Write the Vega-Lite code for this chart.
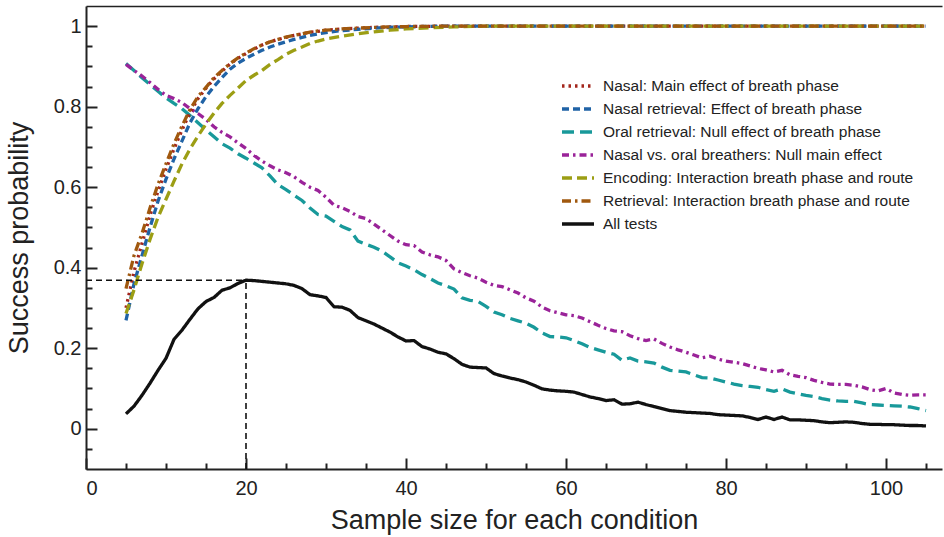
{
  "$schema": "https://vega.github.io/schema/vega-lite/v6.json",
  "autosize": {"type": "none"},
  "padding": {"left": 86, "top": 6, "right": 2, "bottom": 68},
  "width": 856,
  "height": 463,
  "config": {
    "view": {"stroke": null},
    "font": "Liberation Sans",
    "axis": {"grid": false, "domainColor": "#222", "tickColor": "#222", "labelColor": "#222", "titleColor": "#222", "labelFont": "Liberation Sans", "titleFont": "Liberation Sans", "labelFontSize": 20, "titleFontSize": 27, "titleFontWeight": "normal", "tickWidth": 2, "domainWidth": 2, "labelOverlap": false}
  },
  "datasets": {
    "curves": [
      {"s":"All tests","x":5,"y":0.037},{"s":"All tests","x":6,"y":0.056},{"s":"All tests","x":7,"y":0.083},{"s":"All tests","x":8,"y":0.113},{"s":"All tests","x":9,"y":0.145},{"s":"All tests","x":10,"y":0.175},{"s":"All tests","x":11,"y":0.222},{"s":"All tests","x":12,"y":0.245},{"s":"All tests","x":13,"y":0.272},{"s":"All tests","x":14,"y":0.298},{"s":"All tests","x":15,"y":0.316},{"s":"All tests","x":16,"y":0.326},{"s":"All tests","x":17,"y":0.344},{"s":"All tests","x":18,"y":0.350},{"s":"All tests","x":19,"y":0.361},{"s":"All tests","x":20,"y":0.369},{"s":"All tests","x":21,"y":0.368},{"s":"All tests","x":22,"y":0.366},{"s":"All tests","x":23,"y":0.364},{"s":"All tests","x":24,"y":0.362},{"s":"All tests","x":25,"y":0.36},{"s":"All tests","x":26,"y":0.356},{"s":"All tests","x":27,"y":0.348},{"s":"All tests","x":28,"y":0.333},{"s":"All tests","x":29,"y":0.330},{"s":"All tests","x":30,"y":0.326},{"s":"All tests","x":31,"y":0.303},{"s":"All tests","x":32,"y":0.302},{"s":"All tests","x":33,"y":0.294},{"s":"All tests","x":34,"y":0.276},{"s":"All tests","x":35,"y":0.268},{"s":"All tests","x":36,"y":0.260},{"s":"All tests","x":37,"y":0.250},{"s":"All tests","x":38,"y":0.240},{"s":"All tests","x":39,"y":0.228},{"s":"All tests","x":40,"y":0.218},{"s":"All tests","x":41,"y":0.219},{"s":"All tests","x":42,"y":0.204},{"s":"All tests","x":43,"y":0.198},{"s":"All tests","x":44,"y":0.19},{"s":"All tests","x":45,"y":0.186},{"s":"All tests","x":46,"y":0.174},{"s":"All tests","x":47,"y":0.16},{"s":"All tests","x":48,"y":0.153},{"s":"All tests","x":49,"y":0.152},{"s":"All tests","x":50,"y":0.151},{"s":"All tests","x":51,"y":0.137},{"s":"All tests","x":52,"y":0.131},{"s":"All tests","x":53,"y":0.126},{"s":"All tests","x":54,"y":0.122},{"s":"All tests","x":55,"y":0.116},{"s":"All tests","x":56,"y":0.108},{"s":"All tests","x":57,"y":0.099},{"s":"All tests","x":58,"y":0.096},{"s":"All tests","x":59,"y":0.094},{"s":"All tests","x":60,"y":0.093},{"s":"All tests","x":61,"y":0.091},{"s":"All tests","x":62,"y":0.085},{"s":"All tests","x":63,"y":0.079},{"s":"All tests","x":64,"y":0.075},{"s":"All tests","x":65,"y":0.070},{"s":"All tests","x":66,"y":0.072},{"s":"All tests","x":67,"y":0.061},{"s":"All tests","x":68,"y":0.062},{"s":"All tests","x":69,"y":0.066},{"s":"All tests","x":70,"y":0.060},{"s":"All tests","x":71,"y":0.055},{"s":"All tests","x":72,"y":0.05},{"s":"All tests","x":73,"y":0.045},{"s":"All tests","x":74,"y":0.043},{"s":"All tests","x":75,"y":0.041},{"s":"All tests","x":76,"y":0.040},{"s":"All tests","x":77,"y":0.039},{"s":"All tests","x":78,"y":0.038},{"s":"All tests","x":79,"y":0.035},{"s":"All tests","x":80,"y":0.034},{"s":"All tests","x":81,"y":0.033},{"s":"All tests","x":82,"y":0.032},{"s":"All tests","x":83,"y":0.028},{"s":"All tests","x":84,"y":0.023},{"s":"All tests","x":85,"y":0.029},{"s":"All tests","x":86,"y":0.023},{"s":"All tests","x":87,"y":0.029},{"s":"All tests","x":88,"y":0.022},{"s":"All tests","x":89,"y":0.022},{"s":"All tests","x":90,"y":0.021},{"s":"All tests","x":91,"y":0.020},{"s":"All tests","x":92,"y":0.017},{"s":"All tests","x":93,"y":0.015},{"s":"All tests","x":94,"y":0.016},{"s":"All tests","x":95,"y":0.017},{"s":"All tests","x":96,"y":0.016},{"s":"All tests","x":97,"y":0.013},{"s":"All tests","x":98,"y":0.011},{"s":"All tests","x":99,"y":0.011},{"s":"All tests","x":100,"y":0.010},{"s":"All tests","x":101,"y":0.010},{"s":"All tests","x":102,"y":0.009},{"s":"All tests","x":103,"y":0.008},{"s":"All tests","x":104,"y":0.008},{"s":"All tests","x":105,"y":0.007},

      {"s":"Oral retrieval: Null effect of breath phase","x":5,"y":0.907},{"s":"Oral retrieval: Null effect of breath phase","x":6,"y":0.89},{"s":"Oral retrieval: Null effect of breath phase","x":7,"y":0.872},{"s":"Oral retrieval: Null effect of breath phase","x":8,"y":0.855},{"s":"Oral retrieval: Null effect of breath phase","x":9,"y":0.838},{"s":"Oral retrieval: Null effect of breath phase","x":10,"y":0.822},{"s":"Oral retrieval: Null effect of breath phase","x":11,"y":0.808},{"s":"Oral retrieval: Null effect of breath phase","x":12,"y":0.795},{"s":"Oral retrieval: Null effect of breath phase","x":13,"y":0.778},{"s":"Oral retrieval: Null effect of breath phase","x":14,"y":0.76},{"s":"Oral retrieval: Null effect of breath phase","x":15,"y":0.742},{"s":"Oral retrieval: Null effect of breath phase","x":16,"y":0.725},{"s":"Oral retrieval: Null effect of breath phase","x":17,"y":0.708},{"s":"Oral retrieval: Null effect of breath phase","x":18,"y":0.697},{"s":"Oral retrieval: Null effect of breath phase","x":19,"y":0.683},{"s":"Oral retrieval: Null effect of breath phase","x":20,"y":0.672},{"s":"Oral retrieval: Null effect of breath phase","x":21,"y":0.66},{"s":"Oral retrieval: Null effect of breath phase","x":22,"y":0.648},{"s":"Oral retrieval: Null effect of breath phase","x":23,"y":0.628},{"s":"Oral retrieval: Null effect of breath phase","x":24,"y":0.606},{"s":"Oral retrieval: Null effect of breath phase","x":25,"y":0.594},{"s":"Oral retrieval: Null effect of breath phase","x":26,"y":0.58},{"s":"Oral retrieval: Null effect of breath phase","x":27,"y":0.567},{"s":"Oral retrieval: Null effect of breath phase","x":28,"y":0.548},{"s":"Oral retrieval: Null effect of breath phase","x":29,"y":0.532},{"s":"Oral retrieval: Null effect of breath phase","x":30,"y":0.528},{"s":"Oral retrieval: Null effect of breath phase","x":31,"y":0.515},{"s":"Oral retrieval: Null effect of breath phase","x":32,"y":0.502},{"s":"Oral retrieval: Null effect of breath phase","x":33,"y":0.494},{"s":"Oral retrieval: Null effect of breath phase","x":34,"y":0.466},{"s":"Oral retrieval: Null effect of breath phase","x":35,"y":0.458},{"s":"Oral retrieval: Null effect of breath phase","x":36,"y":0.451},{"s":"Oral retrieval: Null effect of breath phase","x":37,"y":0.441},{"s":"Oral retrieval: Null effect of breath phase","x":38,"y":0.427},{"s":"Oral retrieval: Null effect of breath phase","x":39,"y":0.412},{"s":"Oral retrieval: Null effect of breath phase","x":40,"y":0.404},{"s":"Oral retrieval: Null effect of breath phase","x":41,"y":0.395},{"s":"Oral retrieval: Null effect of breath phase","x":42,"y":0.383},{"s":"Oral retrieval: Null effect of breath phase","x":43,"y":0.373},{"s":"Oral retrieval: Null effect of breath phase","x":44,"y":0.362},{"s":"Oral retrieval: Null effect of breath phase","x":45,"y":0.355},{"s":"Oral retrieval: Null effect of breath phase","x":46,"y":0.347},{"s":"Oral retrieval: Null effect of breath phase","x":47,"y":0.325},{"s":"Oral retrieval: Null effect of breath phase","x":48,"y":0.319},{"s":"Oral retrieval: Null effect of breath phase","x":49,"y":0.316},{"s":"Oral retrieval: Null effect of breath phase","x":50,"y":0.304},{"s":"Oral retrieval: Null effect of breath phase","x":51,"y":0.29},{"s":"Oral retrieval: Null effect of breath phase","x":52,"y":0.283},{"s":"Oral retrieval: Null effect of breath phase","x":53,"y":0.274},{"s":"Oral retrieval: Null effect of breath phase","x":54,"y":0.268},{"s":"Oral retrieval: Null effect of breath phase","x":55,"y":0.262},{"s":"Oral retrieval: Null effect of breath phase","x":56,"y":0.252},{"s":"Oral retrieval: Null effect of breath phase","x":57,"y":0.238},{"s":"Oral retrieval: Null effect of breath phase","x":58,"y":0.229},{"s":"Oral retrieval: Null effect of breath phase","x":59,"y":0.228},{"s":"Oral retrieval: Null effect of breath phase","x":60,"y":0.226},{"s":"Oral retrieval: Null effect of breath phase","x":61,"y":0.219},{"s":"Oral retrieval: Null effect of breath phase","x":62,"y":0.211},{"s":"Oral retrieval: Null effect of breath phase","x":63,"y":0.202},{"s":"Oral retrieval: Null effect of breath phase","x":64,"y":0.196},{"s":"Oral retrieval: Null effect of breath phase","x":65,"y":0.19},{"s":"Oral retrieval: Null effect of breath phase","x":66,"y":0.185},{"s":"Oral retrieval: Null effect of breath phase","x":67,"y":0.17},{"s":"Oral retrieval: Null effect of breath phase","x":68,"y":0.176},{"s":"Oral retrieval: Null effect of breath phase","x":69,"y":0.168},{"s":"Oral retrieval: Null effect of breath phase","x":70,"y":0.166},{"s":"Oral retrieval: Null effect of breath phase","x":71,"y":0.163},{"s":"Oral retrieval: Null effect of breath phase","x":72,"y":0.153},{"s":"Oral retrieval: Null effect of breath phase","x":73,"y":0.145},{"s":"Oral retrieval: Null effect of breath phase","x":74,"y":0.143},{"s":"Oral retrieval: Null effect of breath phase","x":75,"y":0.141},{"s":"Oral retrieval: Null effect of breath phase","x":76,"y":0.134},{"s":"Oral retrieval: Null effect of breath phase","x":77,"y":0.127},{"s":"Oral retrieval: Null effect of breath phase","x":78,"y":0.126},{"s":"Oral retrieval: Null effect of breath phase","x":79,"y":0.121},{"s":"Oral retrieval: Null effect of breath phase","x":80,"y":0.116},{"s":"Oral retrieval: Null effect of breath phase","x":81,"y":0.111},{"s":"Oral retrieval: Null effect of breath phase","x":82,"y":0.107},{"s":"Oral retrieval: Null effect of breath phase","x":83,"y":0.105},{"s":"Oral retrieval: Null effect of breath phase","x":84,"y":0.103},{"s":"Oral retrieval: Null effect of breath phase","x":85,"y":0.097},{"s":"Oral retrieval: Null effect of breath phase","x":86,"y":0.093},{"s":"Oral retrieval: Null effect of breath phase","x":87,"y":0.099},{"s":"Oral retrieval: Null effect of breath phase","x":88,"y":0.091},{"s":"Oral retrieval: Null effect of breath phase","x":89,"y":0.087},{"s":"Oral retrieval: Null effect of breath phase","x":90,"y":0.083},{"s":"Oral retrieval: Null effect of breath phase","x":91,"y":0.08},{"s":"Oral retrieval: Null effect of breath phase","x":92,"y":0.075},{"s":"Oral retrieval: Null effect of breath phase","x":93,"y":0.071},{"s":"Oral retrieval: Null effect of breath phase","x":94,"y":0.069},{"s":"Oral retrieval: Null effect of breath phase","x":95,"y":0.068},{"s":"Oral retrieval: Null effect of breath phase","x":96,"y":0.068},{"s":"Oral retrieval: Null effect of breath phase","x":97,"y":0.064},{"s":"Oral retrieval: Null effect of breath phase","x":98,"y":0.06},{"s":"Oral retrieval: Null effect of breath phase","x":99,"y":0.059},{"s":"Oral retrieval: Null effect of breath phase","x":100,"y":0.058},{"s":"Oral retrieval: Null effect of breath phase","x":101,"y":0.057},{"s":"Oral retrieval: Null effect of breath phase","x":102,"y":0.056},{"s":"Oral retrieval: Null effect of breath phase","x":103,"y":0.054},{"s":"Oral retrieval: Null effect of breath phase","x":104,"y":0.05},{"s":"Oral retrieval: Null effect of breath phase","x":105,"y":0.045},

      {"s":"Nasal vs. oral breathers: Null main effect","x":5,"y":0.905},{"s":"Nasal vs. oral breathers: Null main effect","x":6,"y":0.89},{"s":"Nasal vs. oral breathers: Null main effect","x":7,"y":0.876},{"s":"Nasal vs. oral breathers: Null main effect","x":8,"y":0.86},{"s":"Nasal vs. oral breathers: Null main effect","x":9,"y":0.843},{"s":"Nasal vs. oral breathers: Null main effect","x":10,"y":0.828},{"s":"Nasal vs. oral breathers: Null main effect","x":11,"y":0.82},{"s":"Nasal vs. oral breathers: Null main effect","x":12,"y":0.81},{"s":"Nasal vs. oral breathers: Null main effect","x":13,"y":0.795},{"s":"Nasal vs. oral breathers: Null main effect","x":14,"y":0.783},{"s":"Nasal vs. oral breathers: Null main effect","x":15,"y":0.768},{"s":"Nasal vs. oral breathers: Null main effect","x":16,"y":0.75},{"s":"Nasal vs. oral breathers: Null main effect","x":17,"y":0.736},{"s":"Nasal vs. oral breathers: Null main effect","x":18,"y":0.725},{"s":"Nasal vs. oral breathers: Null main effect","x":19,"y":0.71},{"s":"Nasal vs. oral breathers: Null main effect","x":20,"y":0.696},{"s":"Nasal vs. oral breathers: Null main effect","x":21,"y":0.679},{"s":"Nasal vs. oral breathers: Null main effect","x":22,"y":0.665},{"s":"Nasal vs. oral breathers: Null main effect","x":23,"y":0.653},{"s":"Nasal vs. oral breathers: Null main effect","x":24,"y":0.643},{"s":"Nasal vs. oral breathers: Null main effect","x":25,"y":0.636},{"s":"Nasal vs. oral breathers: Null main effect","x":26,"y":0.626},{"s":"Nasal vs. oral breathers: Null main effect","x":27,"y":0.612},{"s":"Nasal vs. oral breathers: Null main effect","x":28,"y":0.6},{"s":"Nasal vs. oral breathers: Null main effect","x":29,"y":0.592},{"s":"Nasal vs. oral breathers: Null main effect","x":30,"y":0.575},{"s":"Nasal vs. oral breathers: Null main effect","x":31,"y":0.555},{"s":"Nasal vs. oral breathers: Null main effect","x":32,"y":0.549},{"s":"Nasal vs. oral breathers: Null main effect","x":33,"y":0.54},{"s":"Nasal vs. oral breathers: Null main effect","x":34,"y":0.527},{"s":"Nasal vs. oral breathers: Null main effect","x":35,"y":0.522},{"s":"Nasal vs. oral breathers: Null main effect","x":36,"y":0.508},{"s":"Nasal vs. oral breathers: Null main effect","x":37,"y":0.494},{"s":"Nasal vs. oral breathers: Null main effect","x":38,"y":0.48},{"s":"Nasal vs. oral breathers: Null main effect","x":39,"y":0.466},{"s":"Nasal vs. oral breathers: Null main effect","x":40,"y":0.457},{"s":"Nasal vs. oral breathers: Null main effect","x":41,"y":0.455},{"s":"Nasal vs. oral breathers: Null main effect","x":42,"y":0.439},{"s":"Nasal vs. oral breathers: Null main effect","x":43,"y":0.432},{"s":"Nasal vs. oral breathers: Null main effect","x":44,"y":0.427},{"s":"Nasal vs. oral breathers: Null main effect","x":45,"y":0.418},{"s":"Nasal vs. oral breathers: Null main effect","x":46,"y":0.397},{"s":"Nasal vs. oral breathers: Null main effect","x":47,"y":0.388},{"s":"Nasal vs. oral breathers: Null main effect","x":48,"y":0.38},{"s":"Nasal vs. oral breathers: Null main effect","x":49,"y":0.374},{"s":"Nasal vs. oral breathers: Null main effect","x":50,"y":0.364},{"s":"Nasal vs. oral breathers: Null main effect","x":51,"y":0.356},{"s":"Nasal vs. oral breathers: Null main effect","x":52,"y":0.353},{"s":"Nasal vs. oral breathers: Null main effect","x":53,"y":0.345},{"s":"Nasal vs. oral breathers: Null main effect","x":54,"y":0.337},{"s":"Nasal vs. oral breathers: Null main effect","x":55,"y":0.325},{"s":"Nasal vs. oral breathers: Null main effect","x":56,"y":0.317},{"s":"Nasal vs. oral breathers: Null main effect","x":57,"y":0.302},{"s":"Nasal vs. oral breathers: Null main effect","x":58,"y":0.293},{"s":"Nasal vs. oral breathers: Null main effect","x":59,"y":0.288},{"s":"Nasal vs. oral breathers: Null main effect","x":60,"y":0.283},{"s":"Nasal vs. oral breathers: Null main effect","x":61,"y":0.281},{"s":"Nasal vs. oral breathers: Null main effect","x":62,"y":0.275},{"s":"Nasal vs. oral breathers: Null main effect","x":63,"y":0.266},{"s":"Nasal vs. oral breathers: Null main effect","x":64,"y":0.257},{"s":"Nasal vs. oral breathers: Null main effect","x":65,"y":0.249},{"s":"Nasal vs. oral breathers: Null main effect","x":66,"y":0.243},{"s":"Nasal vs. oral breathers: Null main effect","x":67,"y":0.241},{"s":"Nasal vs. oral breathers: Null main effect","x":68,"y":0.231},{"s":"Nasal vs. oral breathers: Null main effect","x":69,"y":0.224},{"s":"Nasal vs. oral breathers: Null main effect","x":70,"y":0.219},{"s":"Nasal vs. oral breathers: Null main effect","x":71,"y":0.223},{"s":"Nasal vs. oral breathers: Null main effect","x":72,"y":0.212},{"s":"Nasal vs. oral breathers: Null main effect","x":73,"y":0.203},{"s":"Nasal vs. oral breathers: Null main effect","x":74,"y":0.196},{"s":"Nasal vs. oral breathers: Null main effect","x":75,"y":0.19},{"s":"Nasal vs. oral breathers: Null main effect","x":76,"y":0.183},{"s":"Nasal vs. oral breathers: Null main effect","x":77,"y":0.176},{"s":"Nasal vs. oral breathers: Null main effect","x":78,"y":0.18},{"s":"Nasal vs. oral breathers: Null main effect","x":79,"y":0.173},{"s":"Nasal vs. oral breathers: Null main effect","x":80,"y":0.168},{"s":"Nasal vs. oral breathers: Null main effect","x":81,"y":0.165},{"s":"Nasal vs. oral breathers: Null main effect","x":82,"y":0.162},{"s":"Nasal vs. oral breathers: Null main effect","x":83,"y":0.156},{"s":"Nasal vs. oral breathers: Null main effect","x":84,"y":0.15},{"s":"Nasal vs. oral breathers: Null main effect","x":85,"y":0.146},{"s":"Nasal vs. oral breathers: Null main effect","x":86,"y":0.141},{"s":"Nasal vs. oral breathers: Null main effect","x":87,"y":0.145},{"s":"Nasal vs. oral breathers: Null main effect","x":88,"y":0.134},{"s":"Nasal vs. oral breathers: Null main effect","x":89,"y":0.13},{"s":"Nasal vs. oral breathers: Null main effect","x":90,"y":0.127},{"s":"Nasal vs. oral breathers: Null main effect","x":91,"y":0.12},{"s":"Nasal vs. oral breathers: Null main effect","x":92,"y":0.115},{"s":"Nasal vs. oral breathers: Null main effect","x":93,"y":0.111},{"s":"Nasal vs. oral breathers: Null main effect","x":94,"y":0.11},{"s":"Nasal vs. oral breathers: Null main effect","x":95,"y":0.11},{"s":"Nasal vs. oral breathers: Null main effect","x":96,"y":0.108},{"s":"Nasal vs. oral breathers: Null main effect","x":97,"y":0.104},{"s":"Nasal vs. oral breathers: Null main effect","x":98,"y":0.097},{"s":"Nasal vs. oral breathers: Null main effect","x":99,"y":0.094},{"s":"Nasal vs. oral breathers: Null main effect","x":100,"y":0.1},{"s":"Nasal vs. oral breathers: Null main effect","x":101,"y":0.089},{"s":"Nasal vs. oral breathers: Null main effect","x":102,"y":0.085},{"s":"Nasal vs. oral breathers: Null main effect","x":103,"y":0.083},{"s":"Nasal vs. oral breathers: Null main effect","x":104,"y":0.084},{"s":"Nasal vs. oral breathers: Null main effect","x":105,"y":0.084},

      {"s":"Nasal: Main effect of breath phase","x":5,"y":0.30},{"s":"Nasal: Main effect of breath phase","x":6,"y":0.39},{"s":"Nasal: Main effect of breath phase","x":7,"y":0.46},{"s":"Nasal: Main effect of breath phase","x":8,"y":0.53},{"s":"Nasal: Main effect of breath phase","x":9,"y":0.59},{"s":"Nasal: Main effect of breath phase","x":10,"y":0.645},{"s":"Nasal: Main effect of breath phase","x":11,"y":0.695},{"s":"Nasal: Main effect of breath phase","x":12,"y":0.742},{"s":"Nasal: Main effect of breath phase","x":13,"y":0.785},{"s":"Nasal: Main effect of breath phase","x":14,"y":0.82},{"s":"Nasal: Main effect of breath phase","x":15,"y":0.846},{"s":"Nasal: Main effect of breath phase","x":16,"y":0.869},{"s":"Nasal: Main effect of breath phase","x":17,"y":0.888},{"s":"Nasal: Main effect of breath phase","x":18,"y":0.906},{"s":"Nasal: Main effect of breath phase","x":19,"y":0.92},{"s":"Nasal: Main effect of breath phase","x":20,"y":0.932},{"s":"Nasal: Main effect of breath phase","x":21,"y":0.943},{"s":"Nasal: Main effect of breath phase","x":22,"y":0.953},{"s":"Nasal: Main effect of breath phase","x":23,"y":0.961},{"s":"Nasal: Main effect of breath phase","x":24,"y":0.967},{"s":"Nasal: Main effect of breath phase","x":25,"y":0.972},{"s":"Nasal: Main effect of breath phase","x":26,"y":0.977},{"s":"Nasal: Main effect of breath phase","x":27,"y":0.981},{"s":"Nasal: Main effect of breath phase","x":28,"y":0.985},{"s":"Nasal: Main effect of breath phase","x":29,"y":0.987},{"s":"Nasal: Main effect of breath phase","x":30,"y":0.99},{"s":"Nasal: Main effect of breath phase","x":32,"y":0.993},{"s":"Nasal: Main effect of breath phase","x":34,"y":0.995},{"s":"Nasal: Main effect of breath phase","x":36,"y":0.997},{"s":"Nasal: Main effect of breath phase","x":38,"y":0.998},{"s":"Nasal: Main effect of breath phase","x":40,"y":0.999},{"s":"Nasal: Main effect of breath phase","x":45,"y":1},{"s":"Nasal: Main effect of breath phase","x":50,"y":1},{"s":"Nasal: Main effect of breath phase","x":60,"y":1},{"s":"Nasal: Main effect of breath phase","x":70,"y":1},{"s":"Nasal: Main effect of breath phase","x":80,"y":1},{"s":"Nasal: Main effect of breath phase","x":90,"y":1},{"s":"Nasal: Main effect of breath phase","x":100,"y":1},{"s":"Nasal: Main effect of breath phase","x":105,"y":1},

      {"s":"Nasal retrieval: Effect of breath phase","x":5,"y":0.269},{"s":"Nasal retrieval: Effect of breath phase","x":6,"y":0.36},{"s":"Nasal retrieval: Effect of breath phase","x":7,"y":0.43},{"s":"Nasal retrieval: Effect of breath phase","x":8,"y":0.50},{"s":"Nasal retrieval: Effect of breath phase","x":9,"y":0.565},{"s":"Nasal retrieval: Effect of breath phase","x":10,"y":0.62},{"s":"Nasal retrieval: Effect of breath phase","x":11,"y":0.67},{"s":"Nasal retrieval: Effect of breath phase","x":12,"y":0.715},{"s":"Nasal retrieval: Effect of breath phase","x":13,"y":0.76},{"s":"Nasal retrieval: Effect of breath phase","x":14,"y":0.795},{"s":"Nasal retrieval: Effect of breath phase","x":15,"y":0.825},{"s":"Nasal retrieval: Effect of breath phase","x":16,"y":0.85},{"s":"Nasal retrieval: Effect of breath phase","x":17,"y":0.872},{"s":"Nasal retrieval: Effect of breath phase","x":18,"y":0.893},{"s":"Nasal retrieval: Effect of breath phase","x":19,"y":0.908},{"s":"Nasal retrieval: Effect of breath phase","x":20,"y":0.92},{"s":"Nasal retrieval: Effect of breath phase","x":21,"y":0.93},{"s":"Nasal retrieval: Effect of breath phase","x":22,"y":0.94},{"s":"Nasal retrieval: Effect of breath phase","x":23,"y":0.948},{"s":"Nasal retrieval: Effect of breath phase","x":24,"y":0.955},{"s":"Nasal retrieval: Effect of breath phase","x":25,"y":0.961},{"s":"Nasal retrieval: Effect of breath phase","x":26,"y":0.967},{"s":"Nasal retrieval: Effect of breath phase","x":27,"y":0.972},{"s":"Nasal retrieval: Effect of breath phase","x":28,"y":0.977},{"s":"Nasal retrieval: Effect of breath phase","x":29,"y":0.981},{"s":"Nasal retrieval: Effect of breath phase","x":30,"y":0.984},{"s":"Nasal retrieval: Effect of breath phase","x":32,"y":0.989},{"s":"Nasal retrieval: Effect of breath phase","x":34,"y":0.992},{"s":"Nasal retrieval: Effect of breath phase","x":36,"y":0.995},{"s":"Nasal retrieval: Effect of breath phase","x":38,"y":0.997},{"s":"Nasal retrieval: Effect of breath phase","x":40,"y":0.998},{"s":"Nasal retrieval: Effect of breath phase","x":45,"y":1},{"s":"Nasal retrieval: Effect of breath phase","x":50,"y":1},{"s":"Nasal retrieval: Effect of breath phase","x":60,"y":1},{"s":"Nasal retrieval: Effect of breath phase","x":70,"y":1},{"s":"Nasal retrieval: Effect of breath phase","x":80,"y":1},{"s":"Nasal retrieval: Effect of breath phase","x":90,"y":1},{"s":"Nasal retrieval: Effect of breath phase","x":100,"y":1},{"s":"Nasal retrieval: Effect of breath phase","x":105,"y":1},

      {"s":"Encoding: Interaction breath phase and route","x":5,"y":0.286},{"s":"Encoding: Interaction breath phase and route","x":6,"y":0.345},{"s":"Encoding: Interaction breath phase and route","x":7,"y":0.41},{"s":"Encoding: Interaction breath phase and route","x":8,"y":0.47},{"s":"Encoding: Interaction breath phase and route","x":9,"y":0.525},{"s":"Encoding: Interaction breath phase and route","x":10,"y":0.57},{"s":"Encoding: Interaction breath phase and route","x":11,"y":0.615},{"s":"Encoding: Interaction breath phase and route","x":12,"y":0.658},{"s":"Encoding: Interaction breath phase and route","x":13,"y":0.695},{"s":"Encoding: Interaction breath phase and route","x":14,"y":0.727},{"s":"Encoding: Interaction breath phase and route","x":15,"y":0.757},{"s":"Encoding: Interaction breath phase and route","x":16,"y":0.784},{"s":"Encoding: Interaction breath phase and route","x":17,"y":0.808},{"s":"Encoding: Interaction breath phase and route","x":18,"y":0.828},{"s":"Encoding: Interaction breath phase and route","x":19,"y":0.846},{"s":"Encoding: Interaction breath phase and route","x":20,"y":0.865},{"s":"Encoding: Interaction breath phase and route","x":21,"y":0.878},{"s":"Encoding: Interaction breath phase and route","x":22,"y":0.89},{"s":"Encoding: Interaction breath phase and route","x":23,"y":0.905},{"s":"Encoding: Interaction breath phase and route","x":24,"y":0.917},{"s":"Encoding: Interaction breath phase and route","x":25,"y":0.93},{"s":"Encoding: Interaction breath phase and route","x":26,"y":0.94},{"s":"Encoding: Interaction breath phase and route","x":27,"y":0.948},{"s":"Encoding: Interaction breath phase and route","x":28,"y":0.957},{"s":"Encoding: Interaction breath phase and route","x":29,"y":0.963},{"s":"Encoding: Interaction breath phase and route","x":30,"y":0.968},{"s":"Encoding: Interaction breath phase and route","x":32,"y":0.975},{"s":"Encoding: Interaction breath phase and route","x":34,"y":0.981},{"s":"Encoding: Interaction breath phase and route","x":36,"y":0.986},{"s":"Encoding: Interaction breath phase and route","x":38,"y":0.99},{"s":"Encoding: Interaction breath phase and route","x":40,"y":0.993},{"s":"Encoding: Interaction breath phase and route","x":43,"y":0.996},{"s":"Encoding: Interaction breath phase and route","x":46,"y":0.998},{"s":"Encoding: Interaction breath phase and route","x":50,"y":1},{"s":"Encoding: Interaction breath phase and route","x":60,"y":1},{"s":"Encoding: Interaction breath phase and route","x":70,"y":1},{"s":"Encoding: Interaction breath phase and route","x":80,"y":1},{"s":"Encoding: Interaction breath phase and route","x":90,"y":1},{"s":"Encoding: Interaction breath phase and route","x":100,"y":1},{"s":"Encoding: Interaction breath phase and route","x":105,"y":1},

      {"s":"Retrieval: Interaction breath phase and route","x":5,"y":0.348},{"s":"Retrieval: Interaction breath phase and route","x":6,"y":0.43},{"s":"Retrieval: Interaction breath phase and route","x":7,"y":0.485},{"s":"Retrieval: Interaction breath phase and route","x":8,"y":0.548},{"s":"Retrieval: Interaction breath phase and route","x":9,"y":0.607},{"s":"Retrieval: Interaction breath phase and route","x":10,"y":0.658},{"s":"Retrieval: Interaction breath phase and route","x":11,"y":0.708},{"s":"Retrieval: Interaction breath phase and route","x":12,"y":0.752},{"s":"Retrieval: Interaction breath phase and route","x":13,"y":0.793},{"s":"Retrieval: Interaction breath phase and route","x":14,"y":0.825},{"s":"Retrieval: Interaction breath phase and route","x":15,"y":0.848},{"s":"Retrieval: Interaction breath phase and route","x":16,"y":0.872},{"s":"Retrieval: Interaction breath phase and route","x":17,"y":0.89},{"s":"Retrieval: Interaction breath phase and route","x":18,"y":0.907},{"s":"Retrieval: Interaction breath phase and route","x":19,"y":0.921},{"s":"Retrieval: Interaction breath phase and route","x":20,"y":0.933},{"s":"Retrieval: Interaction breath phase and route","x":21,"y":0.944},{"s":"Retrieval: Interaction breath phase and route","x":22,"y":0.953},{"s":"Retrieval: Interaction breath phase and route","x":23,"y":0.961},{"s":"Retrieval: Interaction breath phase and route","x":24,"y":0.967},{"s":"Retrieval: Interaction breath phase and route","x":25,"y":0.973},{"s":"Retrieval: Interaction breath phase and route","x":26,"y":0.977},{"s":"Retrieval: Interaction breath phase and route","x":27,"y":0.981},{"s":"Retrieval: Interaction breath phase and route","x":28,"y":0.985},{"s":"Retrieval: Interaction breath phase and route","x":29,"y":0.988},{"s":"Retrieval: Interaction breath phase and route","x":30,"y":0.99},{"s":"Retrieval: Interaction breath phase and route","x":32,"y":0.993},{"s":"Retrieval: Interaction breath phase and route","x":34,"y":0.995},{"s":"Retrieval: Interaction breath phase and route","x":36,"y":0.997},{"s":"Retrieval: Interaction breath phase and route","x":38,"y":0.998},{"s":"Retrieval: Interaction breath phase and route","x":40,"y":0.999},{"s":"Retrieval: Interaction breath phase and route","x":45,"y":1},{"s":"Retrieval: Interaction breath phase and route","x":50,"y":1},{"s":"Retrieval: Interaction breath phase and route","x":60,"y":1},{"s":"Retrieval: Interaction breath phase and route","x":70,"y":1},{"s":"Retrieval: Interaction breath phase and route","x":80,"y":1},{"s":"Retrieval: Interaction breath phase and route","x":90,"y":1},{"s":"Retrieval: Interaction breath phase and route","x":100,"y":1},{"s":"Retrieval: Interaction breath phase and route","x":105,"y":1}
    ]
  },
  "layer": [
    {
      "data": {"name": "curves"},
      "mark": {"type": "line", "strokeWidth": 3.3, "strokeCap": "butt"},
      "encoding": {
        "x": {"field": "x", "type": "quantitative", "scale": {"domain": [0, 107], "nice": false, "zero": false},
          "axis": {"orient": "bottom", "title": "Sample size for each condition", "values": [0,20,40,60,80,100],
            "format": "d", "tickSize": -11, "labelPadding": 20, "labelFontSize": 20, "titleFontSize": 27, "titleY": 59, "titleBaseline": "alphabetic"}},
        "y": {"field": "y", "type": "quantitative", "scale": {"domain": [-0.1, 1.05], "nice": false, "zero": false},
          "axis": {"orient": "left", "title": "Success probability", "values": [0,0.2,0.4,0.6,0.8,1],
            "format": "~g", "tickSize": -11, "labelPadding": 16, "labelFontSize": 20, "titleFontSize": 27, "titleX": -53, "titleBaseline": "bottom"}},
        "color": {"field": "s", "type": "nominal",
          "scale": {"domain": ["Nasal: Main effect of breath phase","Nasal retrieval: Effect of breath phase","Oral retrieval: Null effect of breath phase","Nasal vs. oral breathers: Null main effect","Encoding: Interaction breath phase and route","Retrieval: Interaction breath phase and route","All tests"],
            "range": ["#a3261c","#2063a6","#18999a","#9a2399","#9c9e14","#a0580e","#111111"]},
          "legend": {"orient": "none", "legendX": 482, "legendY": 70, "title": null, "symbolType": "M-2,0H2", "symbolSize": 256, "symbolStrokeWidth": 3.3, "labelFontSize": 15.5, "labelFont": "Liberation Sans", "labelColor": "#222", "labelLimit": 500, "rowPadding": 4, "labelOffset": 15, "padding": 0}},
        "strokeDash": {"field": "s", "type": "nominal",
          "scale": {"domain": ["Nasal: Main effect of breath phase","Nasal retrieval: Effect of breath phase","Oral retrieval: Null effect of breath phase","Nasal vs. oral breathers: Null main effect","Encoding: Interaction breath phase and route","Retrieval: Interaction breath phase and route","All tests"],
            "range": [[2.5,4],[7,4],[12,6],[7,4,2.5,4],[10,5],[9,4,2.5,4],[1,0]]},
          "legend": {"orient": "none", "legendX": 482, "legendY": 70, "title": null, "symbolType": "M-2,0H2", "symbolSize": 256, "symbolStrokeWidth": 3.3, "labelFontSize": 15.5, "labelFont": "Liberation Sans", "labelColor": "#222", "labelLimit": 500, "rowPadding": 4, "labelOffset": 15, "padding": 0}}
      }
    },
    {
      "data": {"values": [{"x": 0, "x2": 20, "y": 0.369}]},
      "mark": {"type": "rule", "color": "#111", "strokeWidth": 1.6, "strokeDash": [6, 4]},
      "encoding": {
        "x": {"field": "x", "type": "quantitative", "axis": {"orient": "bottom", "values": [5,10,15,25,30,35,45,50,55,65,70,75,85,90,95,105], "tickSize": -6, "labels": false, "domain": false, "title": null}},
        "x2": {"field": "x2"},
        "y": {"field": "y", "type": "quantitative", "axis": {"orient": "left", "values": [-0.05,0.05,0.1,0.15,0.25,0.3,0.35,0.45,0.5,0.55,0.65,0.7,0.75,0.85,0.9,0.95], "tickSize": -6, "labels": false, "domain": false, "title": null}}
      }
    },
    {
      "data": {"values": [{"x": 20, "y": -0.1, "y2": 0.369}]},
      "mark": {"type": "rule", "color": "#111", "strokeWidth": 1.6, "strokeDash": [6, 4]},
      "encoding": {
        "x": {"field": "x", "type": "quantitative", "axis": {"orient": "top", "labels": false, "tickSize": 0, "tickOpacity": 0, "title": null, "domain": true, "domainWidth": 1.5}},
        "y": {"field": "y", "type": "quantitative", "axis": null},
        "y2": {"field": "y2"}
      }
    }
  ],
  "resolve": {"axis": {"x": "independent", "y": "independent"}}
}
